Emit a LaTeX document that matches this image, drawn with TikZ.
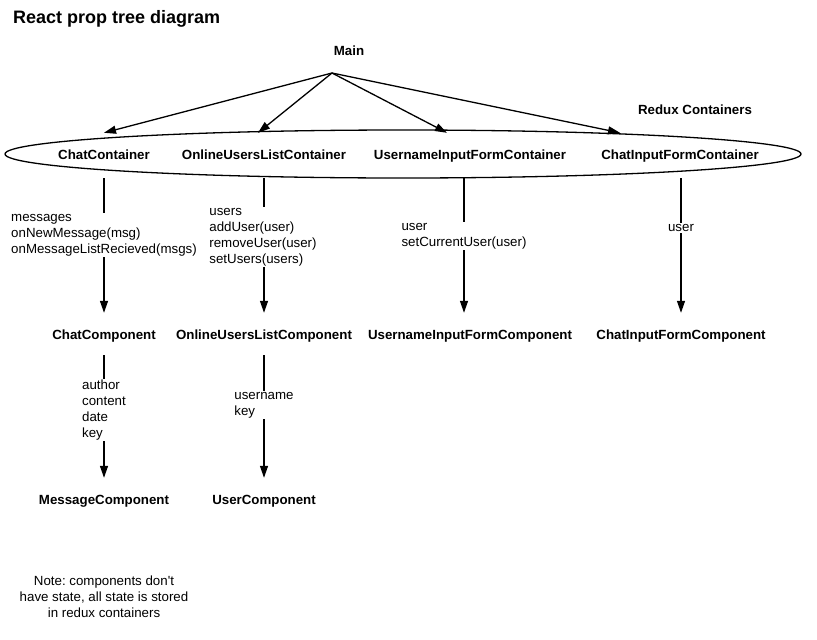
\documentclass[tikz,border=0pt]{standalone}
\usepackage{fontspec}
\setmainfont{Liberation Sans}
\usetikzlibrary{arrows.meta,shapes.geometric}
\frenchspacing
\begin{document}
\begin{tikzpicture}[x=1pt,y=-1pt,
  lbl/.style={font=\fontsize{13.3}{16}\selectfont\bfseries, inner sep=0pt, minimum height=42pt, text height=12.5pt, text depth=1.5pt},
  props/.style={font=\fontsize{13.3}{16}\selectfont, align=left, fill=white, inner sep=1pt},
  note/.style={font=\fontsize{13.3}{16}\selectfont, align=center, inner sep=0pt},
  link/.style={line width=1.3pt, -{Triangle[length=12pt,width=8pt]}},
  shape line/.style={line width=1.3pt}]
\useasboundingbox (0,0) rectangle (817,640);

\node[anchor=west, font=\fontsize{18}{20}\selectfont\bfseries, inner sep=0pt] (title) at (13,19) {React prop tree diagram};

\node[font=\fontsize{13.3}{16}\selectfont\bfseries, inner sep=0pt] (main) at (349,50.5) {Main};
\coordinate (hub) at (332,73);

\node[font=\fontsize{13.3}{16}\selectfont\bfseries, inner sep=0pt] (reduxlbl) at (695,109.5) {Redux Containers};

\node[draw, ellipse, shape line, minimum width=796pt, minimum height=48pt, inner sep=0pt, outer sep=0pt] (redux) at (403,154) {};

% containers
\node[lbl] (cc) at (104,154) {ChatContainer};
\node[lbl] (oc) at (264,154) {OnlineUsersListContainer};
\node[lbl] (uc) at (470,154) {UsernameInputFormContainer};
\node[lbl] (ic) at (680,154) {ChatInputFormContainer};

% components
\node[lbl] (ccomp) at (104,334) {ChatComponent};
\node[lbl] (ocomp) at (264,334) {OnlineUsersListComponent};
\node[lbl] (ucomp) at (470,334) {UsernameInputFormComponent};
\node[lbl] (icomp) at (681,334) {ChatInputFormComponent};

\node[lbl] (mcomp) at (104,499) {MessageComponent};
\node[lbl] (usercomp) at (264,499) {UserComponent};

% main arrows
\draw[link] (hub) -- (cc.north);
\draw[link] (hub) -- ([xshift=-6pt]oc.north);
\draw[link] (hub) -- ([xshift=-23pt]uc.north);
\draw[link] (hub) -- ([xshift=-60pt]ic.north);

% container -> component
\draw[link] ([yshift=-3pt]cc.south) -- (ccomp.north);
\draw[link] ([yshift=-3pt]oc.south) -- (ocomp.north);
\draw[link] ([xshift=-6pt,yshift=-3pt]uc.south) -- ([xshift=-6pt]ucomp.north);
\draw[link] ([xshift=1pt,yshift=-3pt]ic.south) -- (icomp.north);

\node[props] (p1) at (104,235) {messages\\onNewMessage(msg)\\onMessageListRecieved(msgs)};
\node[props] (p2) at (263,237) {users\\addUser(user)\\removeUser(user)\\setUsers(users)};
\node[props] (p3) at (464,236) {user\\setCurrentUser(user)};
\node[props] (p4) at (681,228) {user};

% component -> component
\draw[link] (ccomp.south) -- (mcomp.north);
\draw[link] (ocomp.south) -- (usercomp.north);

\node[props] (p5) at (104,410) {author\\content\\date\\key};
\node[props] (p6) at (264,405) {username\\key};

\node[note] (notelbl) at (104,597) {Note: components don\textquotesingle t\\have state, all state is stored\\in redux containers};
\end{tikzpicture}
\end{document}
